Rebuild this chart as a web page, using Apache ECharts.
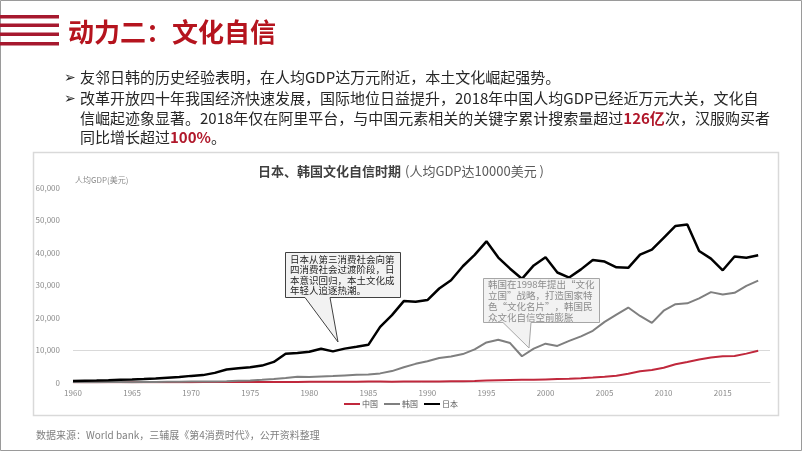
<!DOCTYPE html>
<html>
<head>
<meta charset="utf-8">
<script src="https://cdn.jsdelivr.net/npm/echarts@6/dist/echarts.min.js"></script>
<style>
html,body{margin:0;padding:0;background:#fff;}
#wrap{position:relative;width:802px;height:451px;overflow:hidden;font-family:"Noto Sans CJK SC","Noto Sans",sans-serif;}
#chart{position:absolute;left:0;top:0;width:802px;height:451px;}
.txt{position:absolute;white-space:nowrap;pointer-events:none;}
.ptitle{left:68px;top:17px;font-size:26px;line-height:28px;font-weight:bold;color:#b5141e;}
.bl{font-size:15px;line-height:20px;color:#262626;}
.bul{font-family:"DejaVu Sans",sans-serif;font-size:14px;}
.hl{color:#b0172a;font-weight:bold;}
.src{left:36px;top:428px;font-size:10px;line-height:14px;color:#7f7f7f;}
</style>
</head>
<body>
<div id="wrap">
<div id="chart"></div>
<div class="txt ptitle">动力二：文化自信</div>
<div class="txt bl bul" style="left:64px;top:67px;">➢</div>
<div class="txt bl" style="left:80px;top:67px;">友邻日韩的历史经验表明，在人均GDP达万元附近，本土文化崛起强势。</div>
<div class="txt bl bul" style="left:64px;top:88px;">➢</div>
<div class="txt bl" style="left:80px;top:88px;">改革开放四十年我国经济快速发展，国际地位日益提升，2018年中国人均GDP已经近万元大关，文化自</div>
<div class="txt bl" style="left:80px;top:108px;">信崛起迹象显著。2018年仅在阿里平台，与中国元素相关的关键字累计搜索量超过<span class="hl">126亿</span>次，汉服购买者</div>
<div class="txt bl" style="left:80px;top:127px;">同比增长超过<span class="hl">100%</span>。</div>
<div class="txt src">数据来源：World bank，三辅展《第4消费时代》，公开资料整理</div>
</div>
<script>
const years = [1960,1961,1962,1963,1964,1965,1966,1967,1968,1969,
1970,1971,1972,1973,1974,1975,1976,1977,1978,1979,
1980,1981,1982,1983,1984,1985,1986,1987,1988,1989,
1990,1991,1992,1993,1994,1995,1996,1997,1998,1999,
2000,2001,2002,2003,2004,2005,2006,2007,2008,2009,
2010,2011,2012,2013,2014,2015,2016,2017,2018];
const china = [90,76,70,74,85,98,104,97,91,100,
113,119,132,157,160,178,165,185,156,184,
195,197,203,225,250,294,281,251,284,311,
318,333,366,377,473,610,709,782,829,873,
959,1053,1149,1289,1509,1753,2099,2694,3468,3832,
4550,5618,6317,7051,7679,8067,8148,8879,9771];
const korea = [158,94,106,146,124,109,133,161,199,244,
279,301,324,406,563,615,831,1051,1398,1773,
1704,1870,1977,2180,2390,2457,2803,3511,4686,5738,
6516,7524,8002,8741,10206,12333,13138,12132,8086,10409,
11948,11253,12789,14209,15908,18640,20888,23060,20475,18339,
22087,24080,24359,25890,27811,27105,27608,29743,31363];
const japan = [479,564,633,718,835,919,1058,1228,1450,1669,
2037,2272,2967,3997,4354,4659,5197,6335,8821,9105,
9463,10361,9578,10425,10984,11585,17112,20745,25052,24813,
25359,28925,31465,35766,39269,43440,38437,35022,31903,36027,
38532,33846,32289,34808,37689,37218,35434,35275,39339,40855,
44508,48168,48603,40454,38109,34524,38761,38387,39159];
const seriesNames = ['中国','韩国','日本'];
const yTicks = [0,10000,20000,30000,40000,50000,60000];
const refLine = 10000;
const chartTitle = '日本、韩国文化自信时期';
const chartSub = '(人均GDP达10000美元 )';
const note1 = ['日本从第三消费社会向第','四消费社会过渡阶段，日','本意识回归，本土文化成','年轻人追逐热潮。'];
const note2 = ['韩国在1998年提出“文化','立国”战略，打造国家特','色“文化名片”，韩国民','众文化自信空前膨胀'];

const zip = arr => years.map((y,i)=>[y,arr[i]]);
const chart = echarts.init(document.getElementById('chart'));
const fmt = v => String(v).replace(/\B(?=(\d{3})+(?!\d))/g, ',');
const font = '"Noto Sans CJK SC","Noto Sans",sans-serif';

chart.setOption({
  animation:false,
  textStyle:{fontFamily:font},
  title:{
    text:'{b|'+chartTitle+'} {n|'+chartSub+'}',
    left:'center', top:157,
    textStyle:{fontWeight:'normal',rich:{
      b:{fontSize:13,fontWeight:'bold',color:'#404040',fontFamily:font},
      n:{fontSize:13,fontWeight:'normal',color:'#595959',fontFamily:font}
    }}
  },
  grid:{left:73,right:32,top:187.5,bottom:68.5},
  legend:{
    data:seriesNames, bottom:38, left:'center', icon:'rect', itemWidth:16, itemHeight:2, itemGap:6,
    textStyle:{fontSize:8,color:'#595959',padding:[0,0,0,-3]}
  },
  xAxis:{
    type:'value', min:1960, max:2019, interval:5,
    axisLine:{lineStyle:{color:'#d9d9d9'}},
    axisTick:{show:false}, splitLine:{show:false},
    axisLabel:{color:'#8c8c8c',fontSize:8,margin:6,showMaxLabel:false,formatter:v=>String(v)}
  },
  yAxis:{
    type:'value', min:yTicks[0], max:yTicks[yTicks.length-1], interval:10000,
    name:'人均GDP(美元)', nameLocation:'end', nameGap:4,
    nameTextStyle:{align:'left',color:'#8c8c8c',fontSize:8,padding:[0,0,0,2]},
    axisLine:{show:false}, axisTick:{show:false}, splitLine:{show:false},
    axisLabel:{color:'#8c8c8c',fontSize:8,margin:13,formatter:fmt}
  },
  series:[
    {name:seriesNames[0],type:'line',data:zip(china),showSymbol:false,z:3,
     lineStyle:{width:2,color:'#c0283c'},itemStyle:{color:'#c0283c'},
     markLine:{silent:true,symbol:'none',label:{show:false},z:1,
       lineStyle:{color:'#d9d9d9',width:1,type:'solid'},data:[{yAxis:refLine}]}},
    {name:seriesNames[1],type:'line',data:zip(korea),showSymbol:false,z:4,
     lineStyle:{width:2,color:'#7f7f7f'},itemStyle:{color:'#7f7f7f'}},
    {name:seriesNames[2],type:'line',data:zip(japan),showSymbol:false,z:5,
     lineStyle:{width:2.5,color:'#000000'},itemStyle:{color:'#000000'}}
  ],
  graphic:[
    {type:'rect',shape:{x:0.5,y:0.5,width:801,height:450},style:{fill:'none',stroke:'#9a9a9a',lineWidth:1},silent:true},
    {type:'rect',shape:{x:0,y:15,width:59,height:3.5},style:{fill:'#a6192e'}},
    {type:'rect',shape:{x:0,y:23.5,width:59,height:3.5},style:{fill:'#a6192e'}},
    {type:'rect',shape:{x:0,y:32.5,width:59,height:3.5},style:{fill:'#a6192e'}},
    {type:'rect',shape:{x:0,y:42,width:59,height:3.5},style:{fill:'#a6192e'}},
    {type:'rect',shape:{x:33.5,y:152.5,width:745,height:263},style:{fill:'none',stroke:'#d9d9d9',lineWidth:1.5},silent:true},
    {type:'polygon',z:20,shape:{points:[[285.5,252.5],[400.5,252.5],[400.5,297.5],[330,297.5],[338,342],[305,297.5],[285.5,297.5]]},
     style:{fill:'#f2f2f2',stroke:'#404040',lineWidth:1}},
    {type:'text',z:21,left:290,top:254,style:{text:note1.join('\n'),fontSize:9.5,lineHeight:10.5,fill:'#262626',fontFamily:font}},
    {type:'polygon',z:20,shape:{points:[[483.5,278.5],[599.5,278.5],[599.5,322.5],[531,322.5],[529,348],[503,322.5],[483.5,322.5]]},
     style:{fill:'#f2f2f2',stroke:'#a6a6a6',lineWidth:1}},
    {type:'text',z:21,left:488,top:279,style:{text:note2.join('\n'),fontSize:9.5,lineHeight:11,fill:'#8c8c8c',fontFamily:font}}
  ]
});
</script>
</body>
</html>
